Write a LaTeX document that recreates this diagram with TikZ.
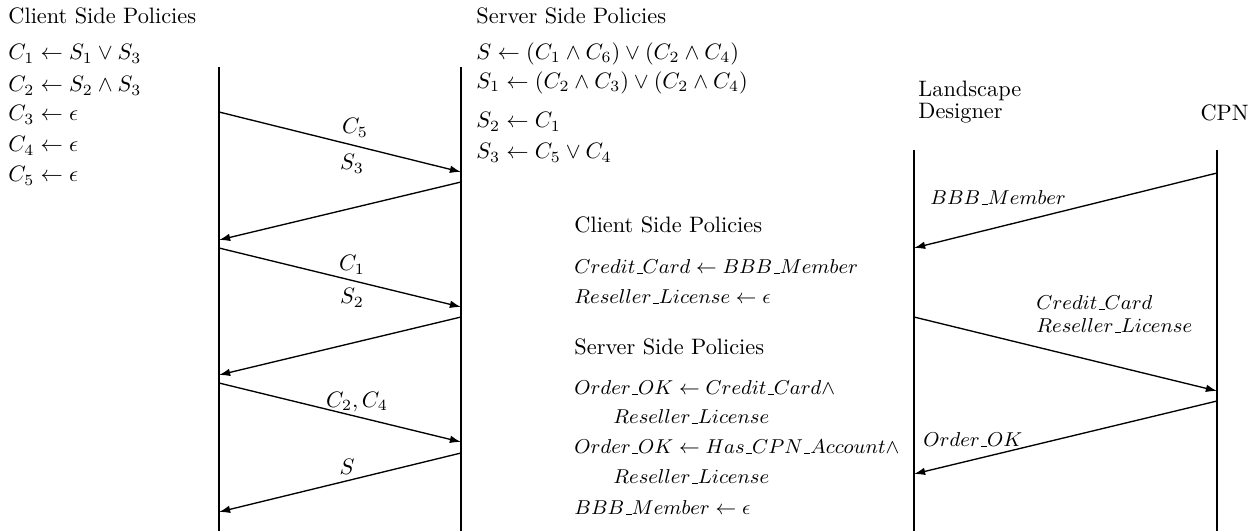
\documentclass[tikz,border=0pt]{standalone}
\usetikzlibrary{arrows.meta}
\newcommand{\us}{\kern.06em\vbox{\hrule width .3em height .45pt}}
\begin{document}
\begin{tikzpicture}[x=0.448pt,y=-0.448pt,
  life/.style={line width=1.3pt},
  msg/.style={line width=0.6pt,-{Latex[length=5pt,width=3.4pt]}},
  txt/.style={anchor=west,inner sep=0pt,font=\fontsize{10}{12}\selectfont},
  wtxt/.style={anchor=west,inner sep=0pt,font=\fontsize{9.2}{11}\selectfont},
  lbl/.style={inner sep=0pt,font=\fontsize{10}{12}\selectfont}]
\useasboundingbox (0,0) rectangle (1254,531);
% lifelines
\coordinate (At) at (219,67); \coordinate (Ab) at (219,531);
\coordinate (Bt) at (461,67); \coordinate (Bb) at (461,531);
\coordinate (Ct) at (914,150); \coordinate (Cb) at (914,531);
\coordinate (Dt) at (1217,150); \coordinate (Db) at (1217,531);
\draw[life] (At) -- (Ab);
\draw[life] (Bt) -- (Bb);
\draw[life] (Ct) -- (Cb);
\draw[life] (Dt) -- (Db);
% left messages
\coordinate (a1) at (219,112); \coordinate (b1) at (461,172);
\coordinate (b2) at (461,182); \coordinate (a2) at (219,240);
\coordinate (a3) at (219,248); \coordinate (b3) at (461,307);
\coordinate (b4) at (461,317); \coordinate (a4) at (219,375);
\coordinate (a5) at (219,383); \coordinate (b5) at (461,442);
\coordinate (b6) at (461,453); \coordinate (a6) at (219,512);
\draw[msg] (a1) -- (b1);
\draw[msg] (b2) -- (a2);
\draw[msg] (a3) -- (b3);
\draw[msg] (b4) -- (a4);
\draw[msg] (a5) -- (b5);
\draw[msg] (b6) -- (a6);
\node[lbl] (l1) at (355,128) {$C_5$};
\node[lbl] (l2) at (352,164) {$S_3$};
\node[lbl] (l3) at (352,265) {$C_1$};
\node[lbl] (l4) at (352,298) {$S_2$};
\node[lbl] (l5) at (357,402) {$C_2, C_4$};
\node[lbl] (l6) at (347,467) {$S$};
% right messages
\coordinate (d1) at (1217,173); \coordinate (c1) at (914,248);
\coordinate (c2) at (914,317); \coordinate (d2) at (1217,391);
\coordinate (d3) at (1217,401); \coordinate (c3) at (914,474);
\draw[msg] (d1) -- (c1);
\draw[msg] (c2) -- (d2);
\draw[msg] (d3) -- (c3);
\node[wtxt] (r1) at (930,198) {$BBB\us Member$};
\node[wtxt] (r2) at (1036,303) {$Credit\us Card$};
\node[wtxt] (r3) at (1036,326) {$Reseller\us License$};
\node[wtxt] (r4) at (923,440) {$Order\us OK$};
% headers
\node[txt] (h1) at (918,91) {Landscape};
\node[txt] (h2) at (918,113) {Designer};
\node[lbl,anchor=east] (h3) at (1249,113) {CPN};
% left policies
\node[txt] (p0) at (8,16) {Client Side Policies};
\node[txt] (p1) at (8,54) {$C_1 \leftarrow S_1 \vee S_3$};
\node[txt] (p2) at (8,86) {$C_2 \leftarrow S_2 \wedge S_3$};
\node[txt] (p3) at (8,115) {$C_3 \leftarrow \epsilon$};
\node[txt] (p4) at (8,146) {$C_4 \leftarrow \epsilon$};
\node[txt] (p5) at (8,176) {$C_5 \leftarrow \epsilon$};
% server policies
\node[txt] (q0) at (476,16) {Server Side Policies};
\node[txt] (q1) at (476,54) {$S \leftarrow (C_1 \wedge C_6) \vee (C_2 \wedge C_4)$};
\node[txt] (q2) at (476,83) {$S_1 \leftarrow (C_2 \wedge C_3) \vee (C_2 \wedge C_4)$};
\node[txt] (q3) at (476,122) {$S_2 \leftarrow C_1$};
\node[txt] (q4) at (476,153) {$S_3 \leftarrow C_5 \vee C_4$};
% middle policies
\node[txt] (m0) at (574,225) {Client Side Policies};
\node[wtxt] (m1) at (574,267) {$Credit\us Card \leftarrow BBB\us Member$};
\node[wtxt] (m2) at (574,297) {$Reseller\us License \leftarrow \epsilon$};
\node[txt] (m3) at (574,347) {Server Side Policies};
\node[wtxt] (m4) at (574,388) {$Order\us OK \leftarrow Credit\us Card \wedge$};
\node[wtxt] (m5) at (613,417) {$Reseller\us License$};
\node[wtxt] (m6) at (574,447) {$Order\us OK \leftarrow Has\us CPN\us Account \wedge$};
\node[wtxt] (m7) at (613,477) {$Reseller\us License$};
\node[wtxt] (m8) at (574,508) {$BBB\us Member \leftarrow \epsilon$};
\end{tikzpicture}
\end{document}
